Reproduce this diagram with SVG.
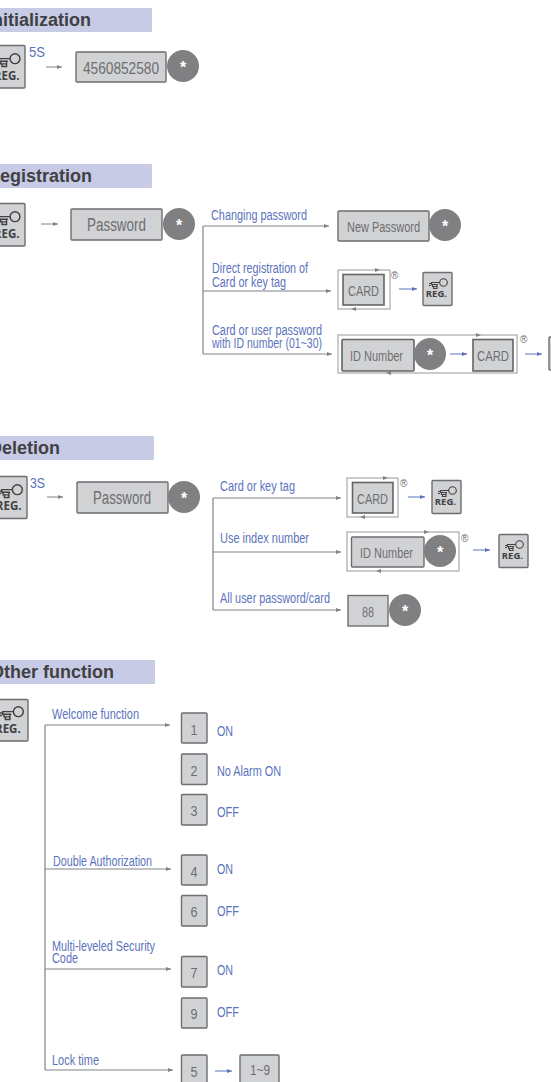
<svg xmlns="http://www.w3.org/2000/svg" width="551" height="1082" viewBox="0 0 551 1082">
<style>
text{font-family:"Liberation Sans",Arial,sans-serif}
.band{fill:#c8cbe6}
.h{font-size:18px;font-weight:700;fill:#414042;text-anchor:end}
.l{font-size:14px;fill:#5b73bc}
.t{fill:#6d6e71;font-size:14px}
.n{fill:#6d6e71;font-size:15px;text-anchor:middle}
.b{fill:#d1d2d4;stroke:#6d6e71;stroke-width:1.4}
.d{fill:#d1d2d4;stroke:#636466;stroke-width:1.6}
.c{fill:#808083}
.s{fill:#fff;font-size:16px;font-weight:700;text-anchor:middle}
.r{font-size:10px;fill:#6d6e71}
.reg{font-size:9.5px;font-weight:700;fill:#414042;text-anchor:end;font-family:"Open Sans","Liberation Sans",sans-serif}
.big{font-size:11.5px}
.w{fill:none;stroke:#808285;stroke-width:1.2}
.g{fill:none;stroke:#808285;stroke-width:1;marker-end:url(#ag)}
.a{fill:none;stroke:#5b73bc;stroke-width:1;marker-end:url(#ab)}
.o{fill:none;stroke:#a7a9ac;stroke-width:1.2}
.p{fill:#808285}
.hand{fill:none;stroke:#414042;stroke-width:1.1}
</style>
<defs>
<marker id="ag" markerUnits="userSpaceOnUse" markerWidth="6" markerHeight="6" refX="5" refY="3" orient="auto"><path d="M0 1L5 3L0 5z" fill="#808285"/></marker>
<marker id="ab" markerUnits="userSpaceOnUse" markerWidth="6" markerHeight="6" refX="5" refY="3" orient="auto"><path d="M0 1L5 3L0 5z" fill="#5b73bc"/></marker>
<g id="hand"><circle cx="20.500" cy="10.500" r="3.800" class="hand"/><path d="M17 10.500H8.500V12.500H15M9.500 12.500V14.500H14M10.500 14.500V16.500H14V12.500M8 11.500H6M8 13.500H6" class="hand"/></g>
</defs>
<g id="connectors">
<path class="g" d="M46 67H62"/>
<path class="g" d="M41 224H58"/>
<path class="w" d="M203 226V354"/>
<path class="g" d="M203 226H329"/>
<path class="g" d="M203 291H331"/>
<path class="g" d="M203 354H332"/>
<path class="a" d="M399 289H417"/>
<path class="a" d="M450 354H467"/>
<path class="a" d="M525 354H542"/>
<path class="g" d="M47 497H63"/>
<path class="w" d="M213 498V610"/>
<path class="g" d="M213 498H341"/>
<path class="g" d="M213 552H341"/>
<path class="g" d="M213 610H341"/>
<path class="a" d="M408 497H425"/>
<path class="a" d="M473 550H490"/>
<path class="w" d="M45 725V1070"/>
<path class="g" d="M45 725H170"/>
<path class="g" d="M45 869H171"/>
<path class="g" d="M45 969H171"/>
<path class="g" d="M45 1070H173"/>
<path class="a" d="M215 1071H232"/>
</g>
<g id="section-initialization">
<rect class="band" x="-4" y="8" width="156" height="24" rx="1"/>
<text class="h" x="91" y="26">Initialization</text>
</g>
<g id="node-reg-1">
<rect class="b" x="-12" y="45.500" width="37" height="42.500" rx="1"/>
<use href="#hand" transform="translate(-11.650 45) scale(1.3)"/>
<text class="reg big" x="19.500" y="80">REG.</text>
</g>
<text id="label-5s" class="l" x="29" y="57" textLength="16" lengthAdjust="spacingAndGlyphs">5S</text>
<g id="node-code">
<rect class="b" x="76" y="52" width="90" height="30" rx="1"/>
<text class="t" x="83" y="74" style="font-size:16px" textLength="76" lengthAdjust="spacingAndGlyphs">4560852580</text>
<circle class="c" cx="183" cy="66" r="16"/><text class="s" x="183" y="73">*</text>
</g>
<g id="section-registration">
<rect class="band" x="-4" y="164" width="156" height="24" rx="1"/>
<text class="h" x="92" y="182">Registration</text>
</g>
<g id="node-reg-2">
<rect class="b" x="-12" y="203.500" width="37" height="42.500" rx="1"/>
<use href="#hand" transform="translate(-11.650 203) scale(1.3)"/>
<text class="reg big" x="19.500" y="238">REG.</text>
</g>
<g id="node-password-1">
<rect class="b" x="71" y="209" width="91" height="31" rx="1"/>
<text class="t" x="87" y="231" style="font-size:18px" textLength="59" lengthAdjust="spacingAndGlyphs">Password</text>
<circle class="c" cx="179" cy="224" r="16"/><text class="s" x="179" y="231">*</text>
</g>
<text class="l" x="211" y="220" textLength="96" lengthAdjust="spacingAndGlyphs">Changing password</text>
<text class="l" x="212" y="273" textLength="96" lengthAdjust="spacingAndGlyphs">Direct registration of</text>
<text class="l" x="212" y="287" textLength="74" lengthAdjust="spacingAndGlyphs">Card or key tag</text>
<text class="l" x="212" y="335" textLength="110" lengthAdjust="spacingAndGlyphs">Card or user password</text>
<text class="l" x="212" y="348" textLength="110" lengthAdjust="spacingAndGlyphs">with ID number (01~30)</text>
<g id="node-new-password">
<rect class="b" x="338" y="211" width="91" height="30" rx="1"/>
<text class="t" x="347" y="232" textLength="73" lengthAdjust="spacingAndGlyphs">New Password</text>
<circle class="c" cx="445" cy="225" r="16"/><text class="s" x="445" y="232">*</text>
</g>
<g id="node-card-1">
<rect class="o" x="338" y="270" width="52" height="39"/>
<path class="p" d="M375 268L380 270L375 272z"/><path class="p" d="M356 307L351 309L356 311z"/>
<rect class="d" x="343" y="274.500" width="41" height="30.500"/>
<text class="t" x="348" y="296" style="font-size:15px" textLength="31" lengthAdjust="spacingAndGlyphs">CARD</text>
<text class="r" x="391" y="279">®</text>
</g>
<g id="node-reg-3">
<rect class="b" x="423" y="272.500" width="29" height="33" rx="1"/>
<use href="#hand" transform="translate(423 272)"/>
<text class="reg" x="447" y="297">REG.</text>
</g>
<g id="node-id-1">
<rect class="o" x="338" y="335" width="179" height="38"/>
<path class="p" d="M476 333L481 335L476 337z"/><path class="p" d="M391 371L386 373L391 375z"/>
<rect class="d" x="342" y="339.500" width="72" height="31.500" rx="1"/>
<text class="t" x="350" y="361" textLength="53" lengthAdjust="spacingAndGlyphs">ID Number</text>
<circle class="c" cx="430" cy="354" r="16"/><text class="s" x="430" y="361">*</text>
<rect class="d" x="473" y="339.500" width="40" height="31.500"/>
<text class="t" x="477" y="361" style="font-size:15px" textLength="32" lengthAdjust="spacingAndGlyphs">CARD</text>
<text class="r" x="520" y="343">®</text>
</g>
<g id="node-reg-4">
<rect class="b" x="549" y="337" width="29" height="33" rx="1"/>
</g>
<g id="section-deletion">
<rect class="band" x="-4" y="436" width="158" height="24" rx="1"/>
<text class="h" x="60" y="454">Deletion</text>
</g>
<g id="node-reg-5">
<rect class="b" x="-10" y="476.500" width="37" height="42" rx="1"/>
<use href="#hand" transform="translate(-9.300 476) scale(1.3)"/>
<text class="reg big" x="21.500" y="510">REG.</text>
</g>
<text id="label-3s" class="l" x="30" y="488" textLength="15" lengthAdjust="spacingAndGlyphs">3S</text>
<g id="node-password-2">
<rect class="b" x="77" y="482" width="91" height="31" rx="1"/>
<text class="t" x="93" y="504" style="font-size:18px" textLength="58" lengthAdjust="spacingAndGlyphs">Password</text>
<circle class="c" cx="184" cy="497" r="16"/><text class="s" x="184" y="504">*</text>
</g>
<text class="l" x="220" y="491" textLength="75" lengthAdjust="spacingAndGlyphs">Card or key tag</text>
<text class="l" x="220" y="543" textLength="89" lengthAdjust="spacingAndGlyphs">Use index number</text>
<text class="l" x="220" y="603" textLength="110" lengthAdjust="spacingAndGlyphs">All user password/card</text>
<g id="node-card-2">
<rect class="o" x="347" y="478" width="51" height="39"/>
<path class="p" d="M383 476L388 478L383 480z"/><path class="p" d="M365 515L360 517L365 519z"/>
<rect class="d" x="352.500" y="482.500" width="40.500" height="30.500"/>
<text class="t" x="357" y="504" style="font-size:15px" textLength="31" lengthAdjust="spacingAndGlyphs">CARD</text>
<text class="r" x="400" y="487">®</text>
</g>
<g id="node-reg-6">
<rect class="b" x="432" y="480.500" width="29" height="33" rx="1"/>
<use href="#hand" transform="translate(432 480)"/>
<text class="reg" x="456" y="505">REG.</text>
</g>
<g id="node-id-2">
<rect class="o" x="347" y="532" width="112" height="39"/>
<path class="p" d="M424 530L429 532L424 534z"/><path class="p" d="M381 569L376 571L381 573z"/>
<rect class="b" x="351.500" y="537" width="72.500" height="30" rx="1"/>
<text class="t" x="360" y="558" textLength="53" lengthAdjust="spacingAndGlyphs">ID Number</text>
<circle class="c" cx="440" cy="551" r="16"/><text class="s" x="440" y="558">*</text>
<text class="r" x="461" y="542">®</text>
</g>
<g id="node-reg-7">
<rect class="b" x="499" y="534.500" width="29" height="33" rx="1"/>
<use href="#hand" transform="translate(499 534)"/>
<text class="reg" x="523" y="559">REG.</text>
</g>
<g id="node-88">
<rect class="b" x="348" y="595.500" width="40" height="30.500"/>
<text class="t" x="362" y="617" textLength="12" lengthAdjust="spacingAndGlyphs">88</text>
<circle class="c" cx="405" cy="610" r="16"/><text class="s" x="405" y="617">*</text>
</g>
<g id="section-other">
<rect class="band" x="-4" y="660" width="159" height="24" rx="1"/>
<text class="h" x="114" y="678">Other function</text>
</g>
<g id="node-reg-8">
<rect class="b" x="-9" y="699.500" width="37" height="41.500" rx="1"/>
<use href="#hand" transform="translate(-8.300 698) scale(1.3)"/>
<text class="reg big" x="20.700" y="733">REG.</text>
</g>
<text class="l" x="52" y="719" textLength="87" lengthAdjust="spacingAndGlyphs">Welcome function</text>
<text class="l" x="53" y="866" textLength="99" lengthAdjust="spacingAndGlyphs">Double Authorization</text>
<text class="l" x="52" y="951" textLength="103" lengthAdjust="spacingAndGlyphs">Multi-leveled Security</text>
<text class="l" x="52" y="963" textLength="26" lengthAdjust="spacingAndGlyphs">Code</text>
<text class="l" x="52" y="1065" textLength="47" lengthAdjust="spacingAndGlyphs">Lock time</text>
<g id="node-1"><rect class="b" x="181.500" y="713" width="25.500" height="30" rx="1"/><text class="n" x="194" y="735" textLength="7" lengthAdjust="spacingAndGlyphs">1</text></g>
<g id="node-2"><rect class="b" x="181.500" y="754" width="25.500" height="30.500" rx="1"/><text class="n" x="194" y="776" textLength="7" lengthAdjust="spacingAndGlyphs">2</text></g>
<g id="node-3"><rect class="b" x="181.500" y="794.500" width="25.500" height="30.500" rx="1"/><text class="n" x="194" y="816" textLength="7" lengthAdjust="spacingAndGlyphs">3</text></g>
<g id="node-4"><rect class="b" x="181.500" y="855" width="25.500" height="30" rx="1"/><text class="n" x="194" y="877" textLength="7" lengthAdjust="spacingAndGlyphs">4</text></g>
<g id="node-6"><rect class="b" x="181.500" y="895.500" width="25.500" height="30.500" rx="1"/><text class="n" x="194" y="917" textLength="7" lengthAdjust="spacingAndGlyphs">6</text></g>
<g id="node-7"><rect class="b" x="181.500" y="956.500" width="25.500" height="30.500" rx="1"/><text class="n" x="194" y="978" textLength="7" lengthAdjust="spacingAndGlyphs">7</text></g>
<g id="node-9"><rect class="b" x="181.500" y="998" width="25.500" height="30" rx="1"/><text class="n" x="194" y="1019" textLength="7" lengthAdjust="spacingAndGlyphs">9</text></g>
<g id="node-5"><rect class="b" x="181.500" y="1055" width="25.500" height="30" rx="1"/><text class="n" x="194" y="1077" textLength="7" lengthAdjust="spacingAndGlyphs">5</text></g>
<g id="node-1-9"><rect class="b" x="240" y="1055" width="39" height="30" rx="1"/><text class="t" x="250" y="1075" textLength="20" lengthAdjust="spacingAndGlyphs">1~9</text></g>
<text class="l" x="217" y="736" textLength="16" lengthAdjust="spacingAndGlyphs">ON</text>
<text class="l" x="217" y="776" textLength="64" lengthAdjust="spacingAndGlyphs">No Alarm ON</text>
<text class="l" x="217" y="817" textLength="22" lengthAdjust="spacingAndGlyphs">OFF</text>
<text class="l" x="217" y="874" textLength="16" lengthAdjust="spacingAndGlyphs">ON</text>
<text class="l" x="217" y="916" textLength="22" lengthAdjust="spacingAndGlyphs">OFF</text>
<text class="l" x="217" y="975" textLength="16" lengthAdjust="spacingAndGlyphs">ON</text>
<text class="l" x="217" y="1017" textLength="22" lengthAdjust="spacingAndGlyphs">OFF</text>
</svg>
